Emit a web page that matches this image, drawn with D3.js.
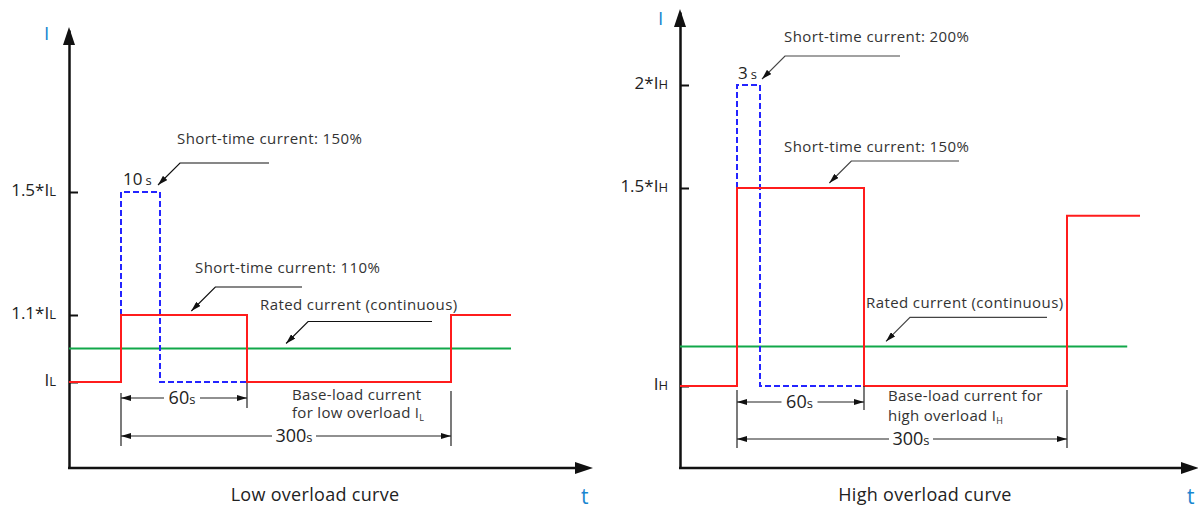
<!DOCTYPE html>
<html>
<head>
<meta charset="utf-8">
<script src="https://cdn.jsdelivr.net/npm/d3@7"></script>
<style>
  body { margin: 0; background: #fff; }
  svg { display: block; font-family: "Open Sans", "Noto Sans", sans-serif; }
</style>
</head>
<body>
<div id="chart"></div>
<script>
// ---- data (time in s, current in multiples of base-load current) ----
var lowTimeKnots = [-30, 0, 10, 60, 300, 330];
var lowLevelKnots = [0, 1, 1.1, 1.5, 1.9];
var lowTicks = [1, 1.1, 1.5];
var lowTickLabels = [['I', 'L'], ['1.1*I', 'L'], ['1.5*I', 'L']];
var lowRed = [[-30, 1], [0, 1.1], [60, 1], [300, 1.1], [330, 1.1]];
var lowBlue = [[0, 1.1], [0, 1.5], [10, 1], [60, 1]];
var lowGreen = [[-30, 1.05], [330, 1.05]];

var highTimeKnots = [-30, 0, 3, 60, 300, 340];
var highLevelKnots = [0, 1, 1.5, 2, 2.35];
var highTicks = [1, 1.5, 2];
var highTickLabels = [['I', 'H'], ['1.5*I', 'H'], ['2*I', 'H']];
var highRed = [[-30, 1], [0, 1.5], [60, 1], [300, 1.43], [340, 1.43]];
var highBlue = [[0, 1.5], [0, 2], [3, 1], [60, 1]];
var highGreen = [[-30, 1.1], [333, 1.1]];

var width = 1198;
var height = 510;

var svg = d3.select('#chart')
    .append('svg')
    .attr('width', width)
    .attr('height', height);

var defs = svg.append('defs');
defs.append('marker')
    .attr('id', 'arr')
    .attr('viewBox', '0 0 10 6')
    .attr('refX', 10)
    .attr('refY', 3)
    .attr('markerWidth', 10)
    .attr('markerHeight', 6)
    .attr('markerUnits', 'userSpaceOnUse')
    .attr('orient', 'auto-start-reverse')
    .append('path')
    .attr('d', 'M0,0L10,3L0,6Z')
    .attr('fill', '#111');

function drawPanel(p) {
    var g = svg.append('g');
    var x = d3.scaleLinear().domain(p.timeKnots).range(p.xRange);
    var y = d3.scaleLinear().domain(p.levelKnots).range(p.yRange);
    var x0 = p.xRange[0];
    var yBase = p.yRange[0];

    // y axis with inward ticks
    var yAxis = d3.axisLeft(y)
        .tickValues(p.ticks)
        .tickSizeInner(-9)
        .tickSizeOuter(0)
        .tickPadding(14)
        .tickFormat('');
    var ya = g.append('g')
        .attr('transform', 'translate(' + x0 + ',0)')
        .call(yAxis);
    ya.select('.domain').attr('stroke', '#111').attr('stroke-width', 2.5);
    ya.selectAll('.tick line').attr('stroke', '#111').attr('stroke-width', 2);
    ya.selectAll('.tick text').each(function (d, i) {
        var t = d3.select(this)
            .attr('x', -p.labelPad)
            .attr('dy', '0.35em')
            .attr('fill', '#222')
            .style('font-family', '"Open Sans", sans-serif');
        t.append('tspan').attr('font-size', 17).text(p.tickLabels[i][0]);
        t.append('tspan').attr('font-size', 13).text(p.tickLabels[i][1]);
    });
    g.append('path')
        .attr('d', 'M' + (x0 - 6) + ',' + (p.yTip + 18) + 'L' + x0 + ',' + p.yTip +
            'L' + (x0 + 6) + ',' + (p.yTip + 18) + 'Z')
        .attr('fill', '#111');

    // x axis
    g.append('line')
        .attr('x1', x0 - 1).attr('x2', p.xTip - 16)
        .attr('y1', yBase).attr('y2', yBase)
        .attr('stroke', '#111').attr('stroke-width', 2.5);
    g.append('path')
        .attr('d', 'M' + (p.xTip - 18) + ',' + (yBase - 6) + 'L' + p.xTip + ',' + yBase +
            'L' + (p.xTip - 18) + ',' + (yBase + 6) + 'Z')
        .attr('fill', '#111');

    g.append('text').attr('x', p.iX).attr('y', p.iY)
        .attr('font-size', 19).attr('fill', '#1a86d0').text('I');
    g.append('text').attr('x', p.xTip - 12).attr('y', 504)
        .attr('font-size', 21).attr('fill', '#1a86d0').text('t');
    g.append('text').attr('x', p.titleX).attr('y', 501)
        .attr('text-anchor', 'middle').attr('letter-spacing', 0.3)
        .attr('font-size', 18).attr('fill', '#222').text(p.title);

    var line = d3.line()
        .x(function (d) { return x(d[0]); })
        .y(function (d) { return y(d[1]); });
    var step = d3.line()
        .x(function (d) { return x(d[0]); })
        .y(function (d) { return y(d[1]); })
        .curve(d3.curveStepAfter);

    g.append('path').attr('d', line(p.green))
        .attr('fill', 'none').attr('stroke', '#12a84a').attr('stroke-width', 2);
    g.append('path').attr('d', step(p.blue))
        .attr('fill', 'none').attr('stroke', '#2424ff').attr('stroke-width', 2)
        .attr('stroke-dasharray', '6,3');
    g.append('path').attr('d', step(p.red))
        .attr('fill', 'none').attr('stroke', '#ff1c1c').attr('stroke-width', 2);

    // extension lines for the dimensions
    p.ext.forEach(function (e) {
        g.append('line')
            .attr('x1', x(e[0])).attr('x2', x(e[0]))
            .attr('y1', e[1]).attr('y2', e[2])
            .attr('stroke', '#222').attr('stroke-width', 1.2);
    });

    // dimension arrows
    p.dims.forEach(function (dm) {
        var xa = x(dm.from), xb = x(dm.to);
        g.append('line')
            .attr('x1', xa).attr('x2', xb)
            .attr('y1', dm.y).attr('y2', dm.y)
            .attr('stroke', '#222').attr('stroke-width', 1.2)
            .attr('marker-start', 'url(#arr)')
            .attr('marker-end', 'url(#arr)');
        var cx = (xa + xb) / 2 + dm.dx;
        g.append('rect')
            .attr('x', cx - dm.w / 2).attr('y', dm.y - 9)
            .attr('width', dm.w).attr('height', 18)
            .attr('fill', '#fff');
        var t = g.append('text').attr('x', cx).attr('y', dm.y + 6)
            .attr('text-anchor', 'middle').attr('fill', '#222');
        t.append('tspan').attr('font-size', 18).text(dm.label);
        t.append('tspan').attr('font-size', 13).text('s');
    });

    // short duration label above the blue pulse
    var sl = g.append('text').attr('x', x(0) + p.shortDx).attr('y', p.shortY).attr('fill', '#222');
    sl.append('tspan').attr('font-size', 17).text(p.shortLabel);
    sl.append('tspan').attr('font-size', 13).attr('dx', 3).text('s');

    // leader annotations
    p.notes.forEach(function (n) {
        var tx = x(n.t) + n.ox, ty = y(n.i) + n.oy;
        g.append('polyline')
            .attr('points', [[n.end, ty - n.rise], [tx + n.rise, ty - n.rise], [tx, ty]].join(' '))
            .attr('fill', 'none').attr('stroke', p.leader).attr('stroke-width', 1.2)
            .attr('marker-end', 'url(#arr)');
        g.append('text').attr('x', n.textX).attr('y', n.textY)
            .attr('font-size', 15).attr('letter-spacing', 0.4)
            .attr('fill', '#333').text(n.text);
    });

    var bt = g.append('text').attr('x', p.baseX).attr('y', p.baseY)
        .attr('font-size', 15).attr('letter-spacing', 0.3).attr('fill', '#333');
    bt.append('tspan').attr('x', p.baseX).text(p.baseLines[0]);
    bt.append('tspan').attr('x', p.baseX).attr('dy', p.baseGap).text(p.baseLines[1]);
    bt.append('tspan').attr('font-size', 9).attr('dy', 3).text(p.baseSub);
}

drawPanel({
    timeKnots: lowTimeKnots, levelKnots: lowLevelKnots,
    xRange: [69, 121, 160, 247, 451, 511], yRange: [468, 382, 315, 192, 30],
    yTip: 27, xTip: 593, iX: 44, iY: 40, labelPad: 13,
    title: 'Low overload curve', titleX: 315,
    ticks: lowTicks, tickLabels: lowTickLabels,
    red: lowRed, blue: lowBlue, green: lowGreen,
    ext: [[0, 393, 446], [60, 383, 408], [300, 391, 446]],
    dims: [{ from: 0, to: 60, y: 398, label: '60', w: 36, dx: -2 },
           { from: 0, to: 300, y: 436, label: '300', w: 44, dx: 8 }],
    shortLabel: '10', shortDx: 2, shortY: 185,
    leader: '#111',
    notes: [
        { text: 'Short-time current: 150%', t: 10, i: 1.5, ox: -2, oy: -7, rise: 22, end: 269, textX: 177, textY: 144 },
        { text: 'Short-time current: 110%', t: 28, i: 1.1, ox: 0, oy: -4, rise: 24, end: 302, textX: 195, textY: 273 },
        { text: 'Rated current (continuous)', t: 106, i: 1.05, ox: 0, oy: -5, rise: 22, end: 432, textX: 260, textY: 310 }
    ],
    baseX: 292, baseY: 400, baseGap: 18,
    baseLines: ['Base-load current', 'for low overload I'], baseSub: 'L'
});

drawPanel({
    timeKnots: highTimeKnots, levelKnots: highLevelKnots,
    xRange: [680, 737, 760, 864, 1067, 1140], yRange: [468, 386, 188, 85, 12],
    yTip: 9, xTip: 1199, iX: 658, iY: 25, labelPad: 12,
    title: 'High overload curve', titleX: 925,
    ticks: highTicks, tickLabels: highTickLabels,
    red: highRed, blue: highBlue, green: highGreen,
    ext: [[0, 390, 448], [60, 386, 410], [300, 390, 448]],
    dims: [{ from: 0, to: 60, y: 402, label: '60', w: 36, dx: -1 },
           { from: 0, to: 300, y: 439, label: '300', w: 44, dx: 9 }],
    shortLabel: '3', shortDx: 1, shortY: 79,
    leader: '#444',
    notes: [
        { text: 'Short-time current: 200%', t: 3, i: 2, ox: 2, oy: -6, rise: 23, end: 900, textX: 784, textY: 42 },
        { text: 'Short-time current: 150%', t: 41, i: 1.5, ox: 0, oy: -5, rise: 22, end: 959, textX: 784, textY: 152 },
        { text: 'Rated current (continuous)', t: 86, i: 1.1, ox: 0, oy: -5, rise: 24, end: 1047, textX: 866, textY: 308 }
    ],
    baseX: 888, baseY: 401, baseGap: 20,
    baseLines: ['Base-load current for', 'high overload I'], baseSub: 'H'
});
</script>
</body>
</html>
